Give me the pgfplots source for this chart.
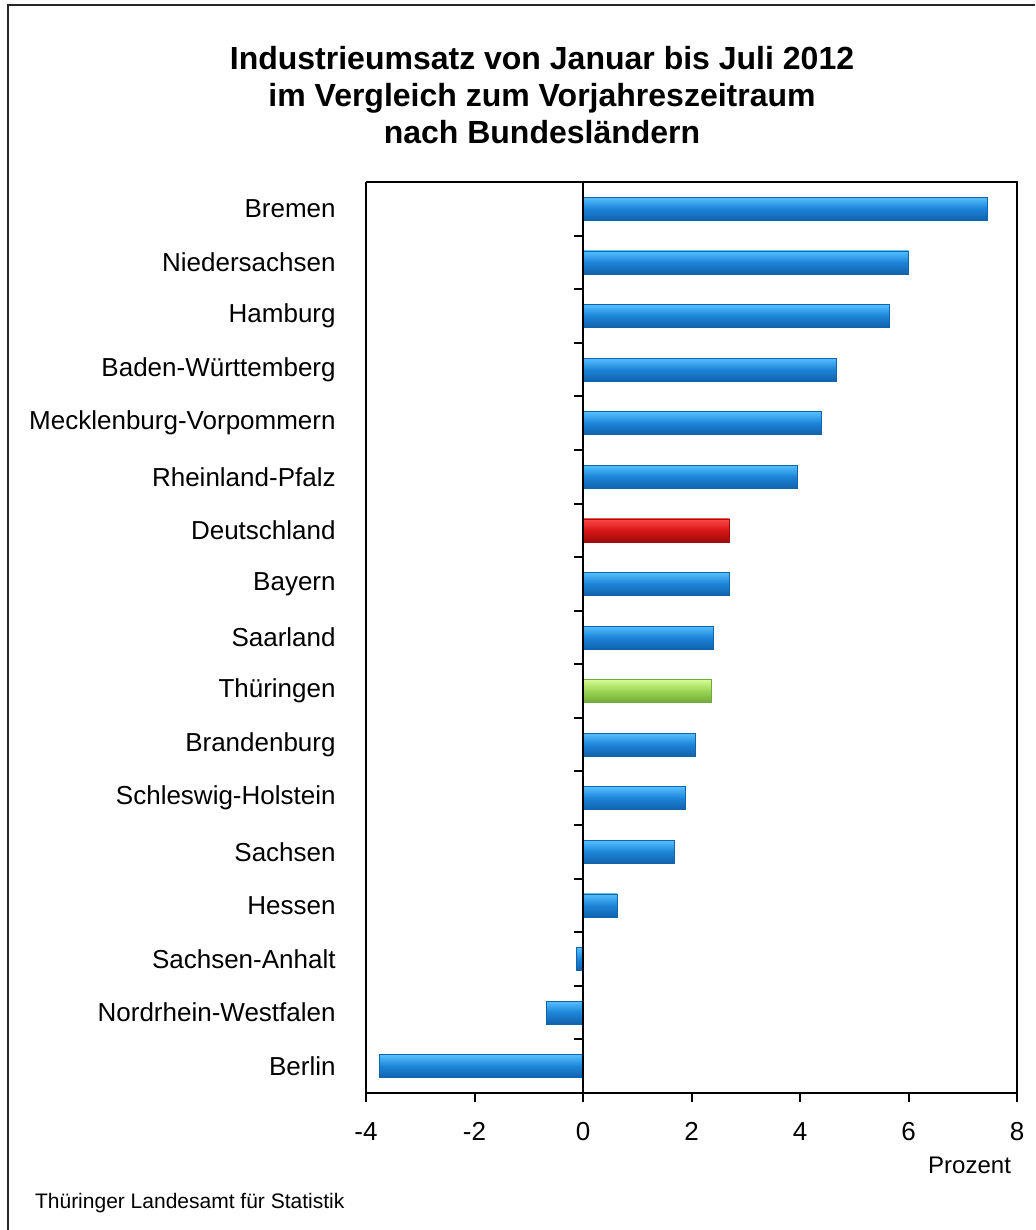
\documentclass[border=0pt]{standalone}
\usepackage{pgfplots}
\pgfplotsset{compat=1.18}
\usepackage{fontspec}
\setmainfont{Liberation Sans}
\definecolor{blueL}{RGB}{85,192,255}
\definecolor{blueM}{RGB}{28,132,215}
\definecolor{blueD}{RGB}{18,98,172}
\definecolor{redL}{RGB}{255,75,75}
\definecolor{redM}{RGB}{215,22,22}
\definecolor{redD}{RGB}{160,12,12}
\definecolor{greenL}{RGB}{212,252,145}
\definecolor{greenM}{RGB}{155,212,85}
\definecolor{greenD}{RGB}{110,170,55}
\pgfplotsset{
  bblue/.style={draw=blueD, line width=0.3pt, top color=blueL, bottom color=blueD, middle color=blueM},
  bred/.style={draw=redD, line width=0.3pt, top color=redL, bottom color=redD, middle color=redM},
  bgreen/.style={draw=greenD, line width=0.3pt, top color=greenL, bottom color=greenD, middle color=greenM},
}
\begin{document}
\begin{tikzpicture}
\useasboundingbox (0,0) rectangle (517.5pt,615pt);
\draw[line width=1pt, black!85] (4pt,0) -- (4pt,612.5pt) -- (517.5pt,612.5pt);
\node[align=center, font=\bfseries\fontsize{16}{18.6}\selectfont] at (271pt,567.5pt)
  {Industrieumsatz von Januar bis Juli 2012\\im Vergleich zum Vorjahreszeitraum\\nach Bundesländern};
\begin{axis}[
  at={(183pt,68.5pt)}, anchor=south west,
  scale only axis, width=325.5pt, height=455.5pt,
  xbar, bar width=11.5pt, bar shift=0pt,
  xmin=-4, xmax=8, ymin=-0.5, ymax=16.5,
  y dir=reverse,
  xtick={-4,-2,...,8},
  ytick={0,...,16},
  yticklabels={Bremen,Niedersachsen,Hamburg,Baden-Württemberg,Mecklenburg-Vorpommern,Rheinland-Pfalz,Deutschland,Bayern,Saarland,Thüringen,Brandenburg,Schleswig-Holstein,Sachsen,Hessen,Sachsen-Anhalt,Nordrhein-Westfalen,Berlin},
  /pgf/number format/assume math mode=true,
  ticklabel style={font=\fontsize{13}{15}\selectfont},
  yticklabel style={anchor=east, inner sep=0pt, xshift=-10.5pt},
  xticklabel style={anchor=north, inner sep=0pt, yshift=-10pt},
  y tick style={draw=none},
  x tick style={black, line width=1pt},
  tick align=outside, major tick length=4.5pt,
  axis line style={black, line width=0.6pt},
  axis x line*=bottom, axis y line*=left,
  clip=false,
]
\draw[black, line width=0.6pt] (axis cs:-4,-0.5) -- (axis cs:8,-0.5) -- (axis cs:8,16.5);
\draw[black, line width=1.1pt] (axis cs:-4,16.5) -- (axis cs:8,16.5);
\addplot[bblue] coordinates {(7.45,0)};
\addplot[bblue] coordinates {(6.00,1)};
\addplot[bblue] coordinates {(5.65,2)};
\addplot[bblue] coordinates {(4.67,3)};
\addplot[bblue] coordinates {(4.39,4)};
\addplot[bblue] coordinates {(3.95,5)};
\addplot[bred]  coordinates {(2.70,6)};
\addplot[bblue] coordinates {(2.70,7)};
\addplot[bblue] coordinates {(2.40,8)};
\addplot[bgreen] coordinates {(2.37,9)};
\addplot[bblue] coordinates {(2.07,10)};
\addplot[bblue] coordinates {(1.88,11)};
\addplot[bblue] coordinates {(1.69,12)};
\addplot[bblue] coordinates {(0.63,13)};
\addplot[bblue] coordinates {(-0.12,14)};
\addplot[bblue] coordinates {(-0.67,15)};
\addplot[bblue] coordinates {(-3.75,16)};
\draw[black, line width=1.1pt] (axis cs:0,-0.5) -- (axis cs:0,16.5);
\pgfplotsinvokeforeach{0,...,15}{\draw[black, line width=1pt] (axis cs:0,#1+0.5) -- ([xshift=-4.5pt]axis cs:0,#1+0.5);}
\end{axis}
\node[anchor=east, font=\fontsize{12}{14}\selectfont] at (509pt,32.5pt) {Prozent};
\node[anchor=west, font=\fontsize{10.5}{12}\selectfont] at (14pt,13.5pt) {Thüringer Landesamt für Statistik};
\end{tikzpicture}
\end{document}
